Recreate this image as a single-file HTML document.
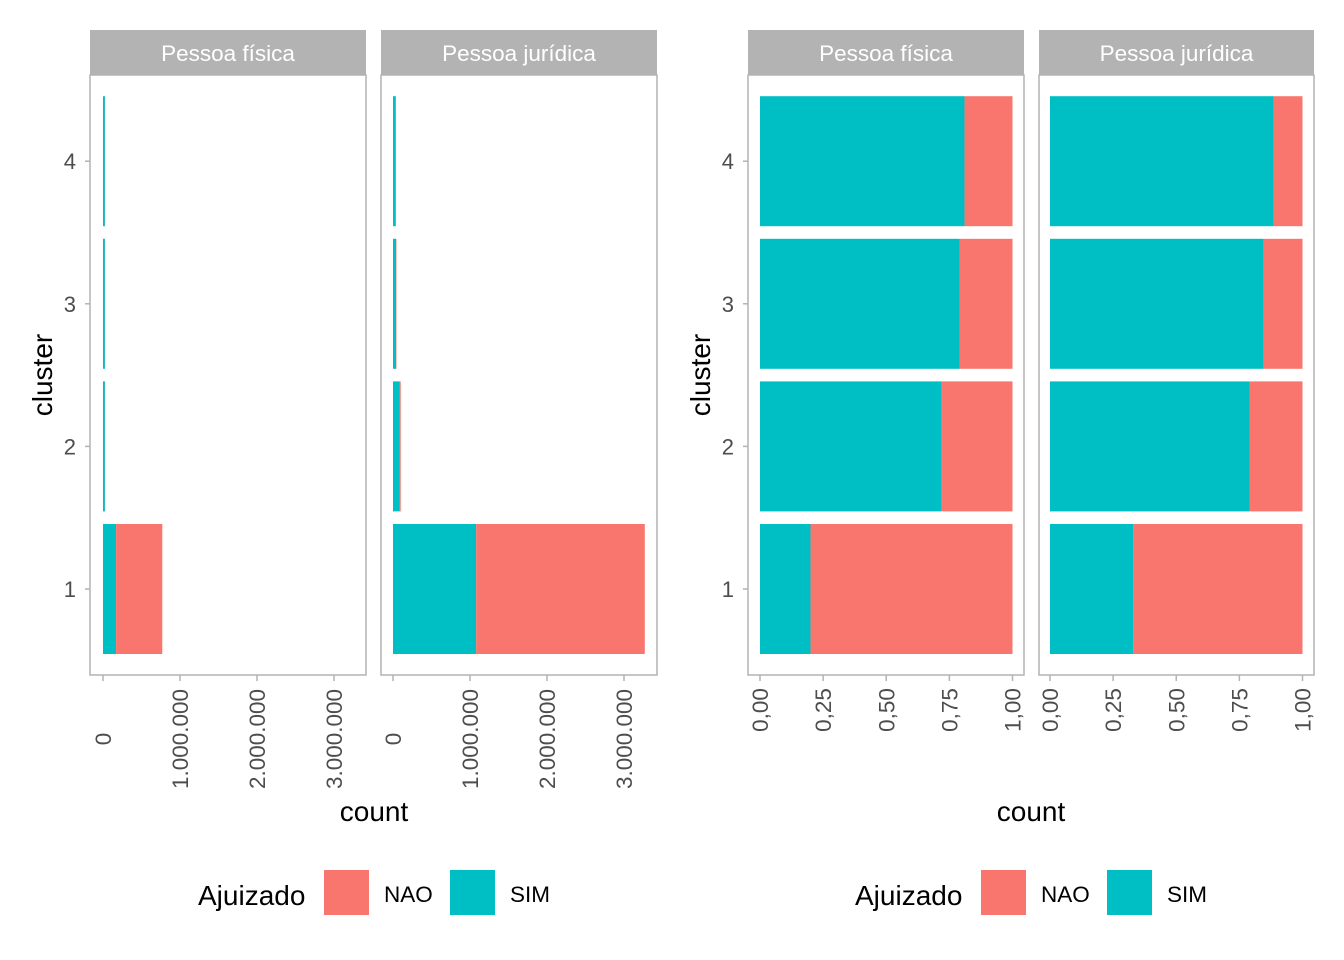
<!DOCTYPE html>
<html><head><meta charset="utf-8"><style>
body{margin:0;background:#fff}
svg{display:block;font-family:"Liberation Sans",Arial,sans-serif}
</style></head><body>
<svg id="chart" width="1344" height="960" viewBox="0 0 1344 960"></svg>
<script>
const clusters = ["1","2","3","4"];
const facets = ["Pessoa física","Pessoa jurídica"];
// counts (left plot): [facet][cluster]
const countSim = [[170000,25000,25000,25000],[1080000,85000,40000,35000]];
const countNao = [[600000,1000,1000,1000],[2190000,15000,5000,3000]];
// proportions of SIM (right plot)
const propSim = [[0.20,0.72,0.79,0.81],[0.33,0.79,0.846,0.885]];
const countTicks = [0,1000000,2000000,3000000];
const countTickLabels = ["0","1.000.000","2.000.000","3.000.000"];
const propTicks = [0,0.25,0.5,0.75,1];
const propTickLabels = ["0,00","0,25","0,50","0,75","1,00"];
const NAO="#F8766D", SIM="#00BFC4", GRID="#b3b3b3", TXT="#4d4d4d";
const svg=document.getElementById('chart');
const NS="http://www.w3.org/2000/svg";
function mk(tag,attrs,parent){const e=document.createElementNS(NS,tag);for(const k in attrs)e.setAttribute(k,attrs[k]);(parent||svg).appendChild(e);return e;}
const yTop=75,yBot=675;
function yC(i){return 589-i*142.6;}
const barH=130;
const panels=[
 {x0:90,x1:366,z:103,mode:'count',f:0},
 {x0:381,x1:657,z:393,mode:'count',f:1},
 {x0:748,x1:1024,z:760,mode:'prop',f:0},
 {x0:1039,x1:1314,z:1050,mode:'prop',f:1}
];
panels.forEach((p,pi)=>{
  const g=mk('g',{});
  
  
  const sx = p.mode==='count' ? (v=>p.z+v*77/1000000) : (v=>p.z+v*252.5);
  const s=mk('rect',{x:p.x0,y:30,width:p.x1-p.x0,height:45,fill:GRID},g);
  
  
  const st=mk('text',{x:(p.x0+p.x1)/2,y:61,'text-anchor':'middle','font-size':22.5,fill:'#fff'},g);
  st.textContent=facets[p.f];
  
  
  clusters.forEach((c,i)=>{
    let simV,tot;
    if(p.mode==='count'){simV=countSim[p.f][i];tot=simV+countNao[p.f][i];}
    else{simV=propSim[p.f][i];tot=1;}
    const y=yC(i)-barH/2;
    const r1=mk('rect',{x:sx(0),y:y,width:sx(simV)-sx(0),height:barH,fill:SIM},g);
    
    
    const r2=mk('rect',{x:sx(simV),y:y,width:sx(tot)-sx(simV),height:barH,fill:NAO},g);
    
    
  });
  const b=mk('rect',{x:p.x0,y:yTop,width:p.x1-p.x0,height:yBot-yTop,fill:'none',stroke:GRID,'stroke-width':1.5},g);
  
  
  const ticks=p.mode==='count'?countTicks:propTicks;
  const labs=p.mode==='count'?countTickLabels:propTickLabels;
  const cy=p.mode==='count'?739:710;
  ticks.forEach((t,k)=>{
    const x=sx(t);
    mk('line',{x1:x,x2:x,y1:yBot,y2:yBot+6,stroke:GRID,'stroke-width':1.5},g);
    const tl=mk('text',{x:0,y:0,transform:`translate(${x+8},${cy}) rotate(-90)`,'text-anchor':'middle','font-size':22.5,fill:TXT},g);
    tl.textContent=labs[k];
    
    
  });
  if(p.f===0){
    clusters.forEach((c,i)=>{
      mk('line',{x1:p.x0-5,x2:p.x0,y1:yC(i),y2:yC(i),stroke:GRID,'stroke-width':1.5},g);
      const yl=mk('text',{x:p.x0-14,y:yC(i)+8,'text-anchor':'end','font-size':22,fill:TXT},g);
      yl.textContent=c;
      
      
    });
  }
});
[{cx:374,yt:42,lx:0},{cx:1031,yt:700,lx:657}].forEach((a,ai)=>{
  const yt=mk('text',{x:0,y:0,transform:`translate(${a.yt+10},375) rotate(-90)`,'text-anchor':'middle','font-size':28,fill:'#000'});
  yt.textContent='cluster';
  
  
  const xt=mk('text',{x:a.cx,y:821,'text-anchor':'middle','font-size':28,fill:'#000'});
  xt.textContent='count';
  
  
  const lg=mk('g',{});
  
  
  const lt=mk('text',{x:198+a.lx,y:905,'font-size':28,fill:'#000'},lg);
  lt.textContent='Ajuizado';
  
  
  [[NAO,'NAO',324],[SIM,'SIM',450]].forEach(e=>{
    const r=mk('rect',{x:e[2]+a.lx,y:870,width:45,height:45,fill:e[0]},lg);
    
    
    const t=mk('text',{x:e[2]+60+a.lx,y:902,'font-size':22.5,fill:'#000'},lg);
    t.textContent=e[1];
    
    
  });
});
</script>
</body></html>
